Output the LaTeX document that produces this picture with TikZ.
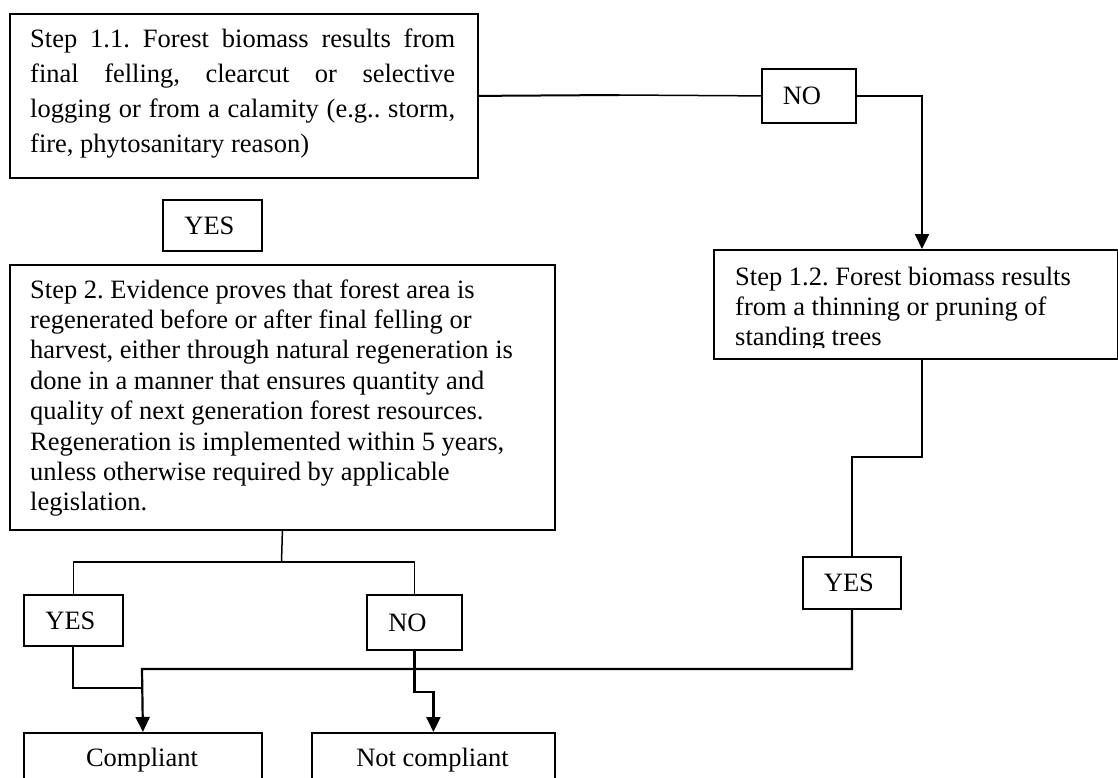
\documentclass[tikz,border=0pt]{standalone}
\usepackage{fontspec}
\setmainfont{Liberation Serif}
\usetikzlibrary{arrows.meta}
\frenchspacing
\begin{document}
\begin{tikzpicture}[x=1pt,y=-1pt,
  every node/.style={font=\fontsize{26.5}{30.4}\selectfont, inner sep=0pt},
  box/.style={draw, line width=1.8pt, rectangle, anchor=north west},
  txt/.style={anchor=base west, align=left},
  conn/.style={line width=1.5pt},
  connthick/.style={line width=2pt},
  flow/.style={line width=2.2pt, -{Triangle[width=14pt,length=15pt]}}]
\useasboundingbox (0,0) rectangle (1118,778);
\clip (0,0) rectangle (1118,778);

% boxes
\node[box, minimum width=468pt, minimum height=164pt] (s11) at (9,13) {};
\node[box, minimum width=99pt, minimum height=51pt, label={[xshift=-3pt]center:YES}] (yes1) at (162,199) {};
\node[box, minimum width=94pt, minimum height=54pt, label={[xshift=-7pt]center:NO}] (no1) at (761,68) {};
\node[box, minimum width=404pt, minimum height=109pt] (s12) at (713,249) {};
\node[box, minimum width=545pt, minimum height=265pt] (s2) at (9,264) {};
\node[box, minimum width=98pt, minimum height=52pt, label={[xshift=-3pt]center:YES}] (yes2) at (802,556) {};
\node[box, minimum width=99pt, minimum height=51pt, label={[xshift=-3pt]center:YES}] (yes3) at (23,594) {};
\node[box, minimum width=95pt, minimum height=55pt, label={[xshift=-7pt]center:NO}] (no3) at (366,594) {};
\node[box, minimum width=238pt, minimum height=80pt] (comp) at (23,732) {};
\node[box, minimum width=243pt, minimum height=80pt] (ncomp) at (311,732) {};

% box texts
\node[txt] (t11) at (30,48) {\parbox[t]{425pt}{\setlength{\baselineskip}{35pt}%
  \makebox[425pt][s]{Step 1.1. Forest biomass results from}\\
  \makebox[425pt][s]{final felling, clearcut or selective}\\
  \makebox[425pt][s]{logging or from a calamity (e.g.. storm,}\\
  fire, phytosanitary reason)}};

\begin{scope}
  \clip (713,249) rectangle (1118,347.5);
  \node[txt] (t12) at (735,285) {\parbox[t]{380pt}{\setlength{\baselineskip}{30pt}%
    Step 1.2. Forest biomass results\\
    from a thinning or pruning of\\
    standing trees}};
\end{scope}

\node[txt] (t2) at (30,298) {\parbox[t]{520pt}{\setlength{\baselineskip}{30.4pt}%
  Step 2. Evidence proves that forest area is\\
  regenerated before or after final felling or\\
  harvest, either through natural regeneration is\\
  done in a manner that ensures quantity and\\
  quality of next generation forest resources.\\
  Regeneration is implemented within 5 years,\\
  unless otherwise required by applicable\\
  legislation.}};

\node[anchor=base] (tcomp) at (142,766) {Compliant};
\node[anchor=base] (tncomp) at (432.5,766) {Not compliant};

% connectors
\coordinate (j1) at (619,95);
\draw[connthick] (s11.east) -- (j1);
\draw[conn] (j1) -- (no1.west);

\coordinate (in12) at (922,249);
\draw[flow] (no1.east) -| (in12);

\coordinate (out12) at (922,358);
\coordinate (k1) at (922,457);
\draw[conn] (out12) -- (k1) -| (yes2.north);

\coordinate (m1) at (142,669);
\draw[flow] (yes2.south) |- (m1) -- (comp.north);

\coordinate (br) at (281.5,562);
\draw[conn] (s2.south) -- (br);
\draw[conn] (yes3.north) |- (br) -| (no3.north);

\coordinate (m2) at (142,688);
\draw[connthick] (yes3.south) |- (m2);

\draw[flow] (no3.south) -- ++(0,41) -| (ncomp.north);
\end{tikzpicture}
\end{document}
